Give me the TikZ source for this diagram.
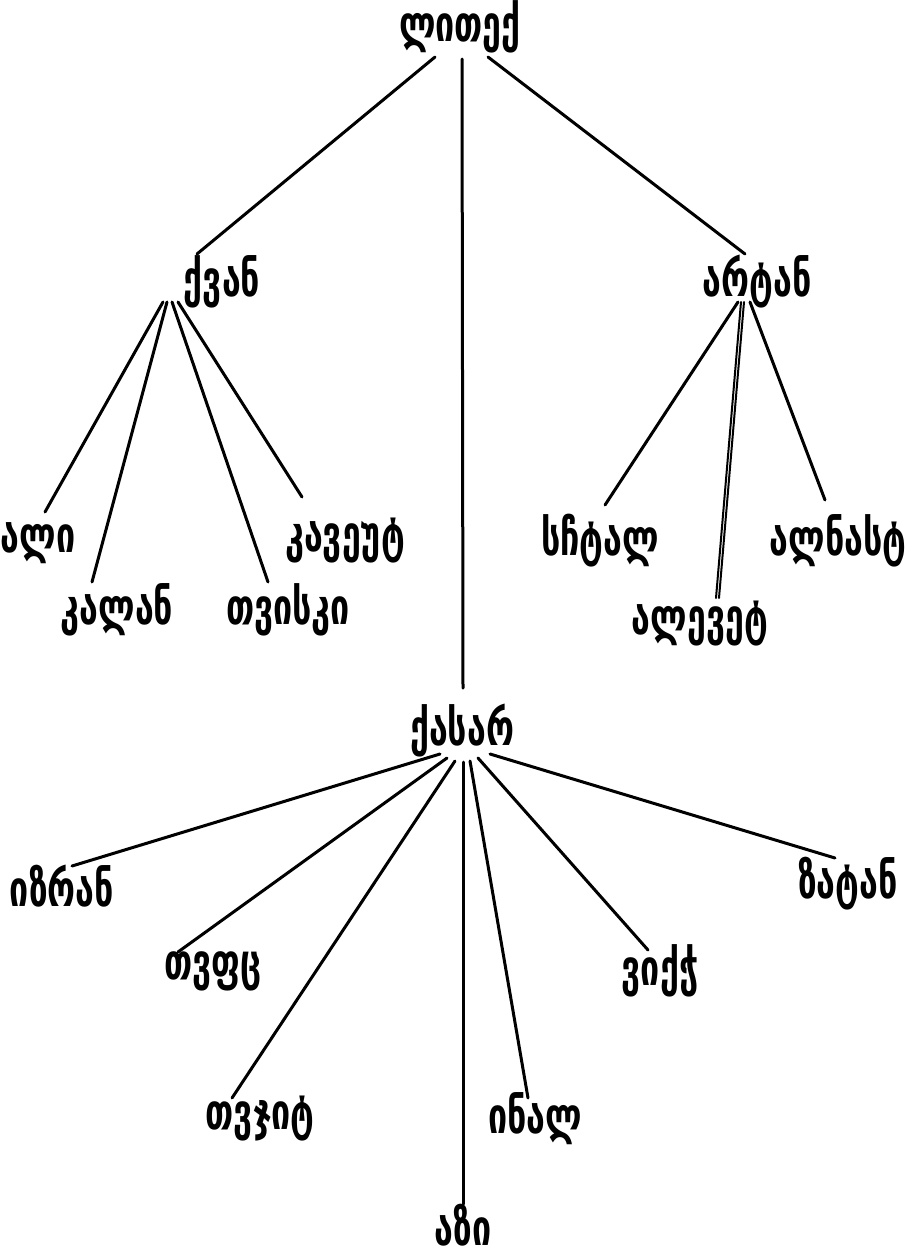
\documentclass[tikz,border=0pt]{standalone}
\usepackage{fontspec}
\setmainfont{DejaVu Sans}
\newfontfamily\geo[FakeStretch=0.68]{DejaVu Sans Bold}
\begin{document}
\begin{tikzpicture}[x=1pt,y=-1pt,
  lbl/.style={font=\geo\fontsize{50}{54}\selectfont, inner sep=0pt, anchor=center},
  edge/.style={line width=3pt, line cap=round}]
\useasboundingbox (0,0) rectangle (918,1258);
\fill[white] (0,0) rectangle (918,1258);
% nodes
\node[lbl] (root) at (460,27) {ლითექ};
\node[lbl] (l) at (222,282) {ქვან};
\node[lbl] (r) at (757,282) {არტან};
\node[lbl] (m) at (462,731) {ქასარ};
% left leaves
\node[lbl] (l1) at (38,543) {ალი};
\node[lbl] (l2) at (117,610) {კალან};
\node[lbl] (l3) at (288,610) {თვისკი};
\node[lbl] (l4) at (345,541) {კავეუტ};
% right leaves
\node[lbl] (r1) at (600,541) {სჩტალ};
\node[lbl] (r2) at (838,541) {ალნასტ};
\node[lbl] (r3) at (700,624) {ალევეტ};
% middle leaves
\node[lbl] (m1) at (62,886) {იზრან};
\node[lbl] (m2) at (213,971) {თვფც};
\node[lbl] (m3) at (260,1119) {თვჯიტ};
\node[lbl] (m4) at (463,1225) {აზი};
\node[lbl] (m5) at (535,1119) {ინალ};
\node[lbl] (m6) at (660,971) {ვიქჭ};
\node[lbl] (m7) at (848,884) {ზატან};
% anchors
\coordinate (rootA) at (435,57);
\coordinate (rootB) at (462,59);
\coordinate (rootC) at (488,57);
\coordinate (lA) at (197,254);
\coordinate (mA) at (463,688);
\coordinate (rA) at (745,254);
\draw[edge] (rootA) -- (lA);
\draw[edge] (rootB) -- (mA);
\draw[edge] (rootC) -- (rA);
% left child fan
\coordinate (lo1) at (163,302);
\coordinate (lo2) at (167,302);
\coordinate (lo3) at (172,302);
\coordinate (lo4) at (178,302);
\coordinate (le1) at (45,512);
\coordinate (le2) at (92,582);
\coordinate (le3) at (268,582);
\coordinate (le4) at (302,497);
\draw[edge] (lo1) -- (le1);
\draw[edge] (lo2) -- (le2);
\draw[edge] (lo3) -- (le3);
\draw[edge] (lo4) -- (le4);
% right child fan
\coordinate (ro1) at (738,302);
\coordinate (ro2) at (741,302);
\coordinate (ro2b) at (744,302);
\coordinate (ro3) at (750,302);
\coordinate (re1) at (605,505);
\coordinate (re2) at (825,500);
\coordinate (re3) at (716,598);
\coordinate (re3b) at (719,598);
\draw[edge] (ro1) -- (re1);
\draw[edge, line width=2pt] (ro2) -- (re3);
\draw[edge, line width=2pt] (ro2b) -- (re3b);
\draw[edge] (ro3) -- (re2);
% middle child fan
\coordinate (mo1) at (440,754);
\coordinate (mo2) at (447,758);
\coordinate (mo3) at (455,761);
\coordinate (mo4) at (463,762);
\coordinate (mo5) at (470,761);
\coordinate (mo6) at (478,758);
\coordinate (mo7) at (490,754);
\coordinate (me1) at (72,866);
\coordinate (me2) at (178,952);
\coordinate (me3) at (232,1098);
\coordinate (me4) at (463,1204);
\coordinate (me5) at (528,1098);
\coordinate (me6) at (648,950);
\coordinate (me7) at (835,858);
\draw[edge] (mo1) -- (me1);
\draw[edge] (mo2) -- (me2);
\draw[edge] (mo3) -- (me3);
\draw[edge] (mo4) -- (me4);
\draw[edge] (mo5) -- (me5);
\draw[edge] (mo6) -- (me6);
\draw[edge] (mo7) -- (me7);
\end{tikzpicture}
\end{document}
